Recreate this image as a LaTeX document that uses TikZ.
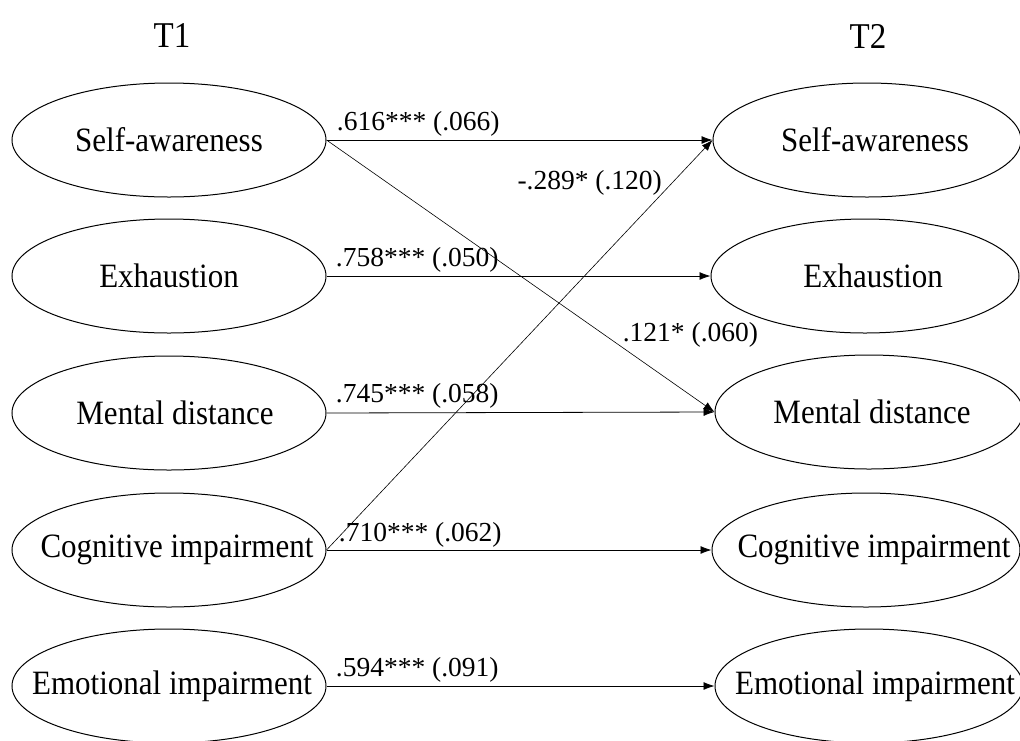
\documentclass[tikz,border=0pt]{standalone}
\usepackage{fontspec}
\setmainfont{Liberation Serif}
\usetikzlibrary{shapes.geometric,arrows.meta}
\newcommand\ntxt[2][0pt]{\makebox[0pt][c]{\hspace*{#1}\scalebox{1}[1.1]{#2}}}
\tikzset{
  lat/.style={draw, ellipse, line width=1pt, inner sep=0pt, minimum width=314pt, minimum height=114pt, font=\fontsize{31}{36}\selectfont},
  latr/.style={lat, minimum width=308pt},
  tlabel/.style={font=\fontsize{33}{38}\selectfont},
  path/.style={line width=0.8pt, -{Latex[length=11pt,width=8pt]}},
  cross/.style={line width=0.6pt, -{Latex[length=11pt,width=8pt]}},
  coef/.style={font=\fontsize{27.5}{32}\selectfont, inner sep=0pt},
}
\begin{document}
\begin{tikzpicture}[x=1pt,y=-1pt]
\useasboundingbox (0,0) rectangle (1020,740);
\node[tlabel] (t1) at (172,36) {\scalebox{1}[1.1]{T1}};
\node[tlabel] (t2) at (868,36) {\scalebox{1}[1.1]{T2}};
% T1
\node[lat] (l1) at (169,140) {\ntxt{Self-awareness}};
\node[lat] (l2) at (169,276) {\ntxt{Exhaustion}};
\node[lat] (l3) at (169,413) {\ntxt[12pt]{Mental distance}};
\node[lat] (l4) at (169,550) {\ntxt[16pt]{Cognitive impairment}};
\node[lat] (l5) at (169,686) {\ntxt[6pt]{Emotional impairment}};
% T2
\node[latr] (r1) at (867,140) {\ntxt[16pt]{Self-awareness}};
\node[latr] (r2) at (865,276) {\ntxt[16pt]{Exhaustion}};
\node[latr] (r3) at (869,412) {\ntxt[6pt]{Mental distance}};
\node[latr] (r4) at (866,550) {\ntxt[16pt]{Cognitive impairment}};
\node[latr] (r5) at (869,686) {\ntxt[12pt]{Emotional impairment}};
% paths
\draw[path] (l1.east) -- node[coef, pos=0, anchor=base west, xshift=10pt, yshift=10pt] {.616*** (.066)} (r1.west);
\draw[path] (l2.east) -- node[coef, pos=0, anchor=base west, xshift=9pt, yshift=10pt] {.758*** (.050)} (r2.west);
\draw[path] (l3.east) -- node[coef, pos=0, anchor=base west, xshift=9pt, yshift=11pt] {.745*** (.058)} (r3.west);
\draw[path] (l4.east) -- node[coef, pos=0, anchor=base west, xshift=12pt, yshift=9pt] {.710*** (.062)} (r4.west);
\draw[path] (l5.east) -- node[coef, pos=0, anchor=base west, xshift=9pt, yshift=10pt] {.594*** (.091)} (r5.west);
\draw[cross] (l1.east) -- node[coef, pos=0.763, anchor=base west, yshift=6pt] {.121* (.060)} (r3.west);
\draw[cross] (l4.east) -- node[coef, pos=0.88, anchor=base east, xshift=-4pt] {-.289* (.120)} (r1.west);
\end{tikzpicture}
\end{document}
